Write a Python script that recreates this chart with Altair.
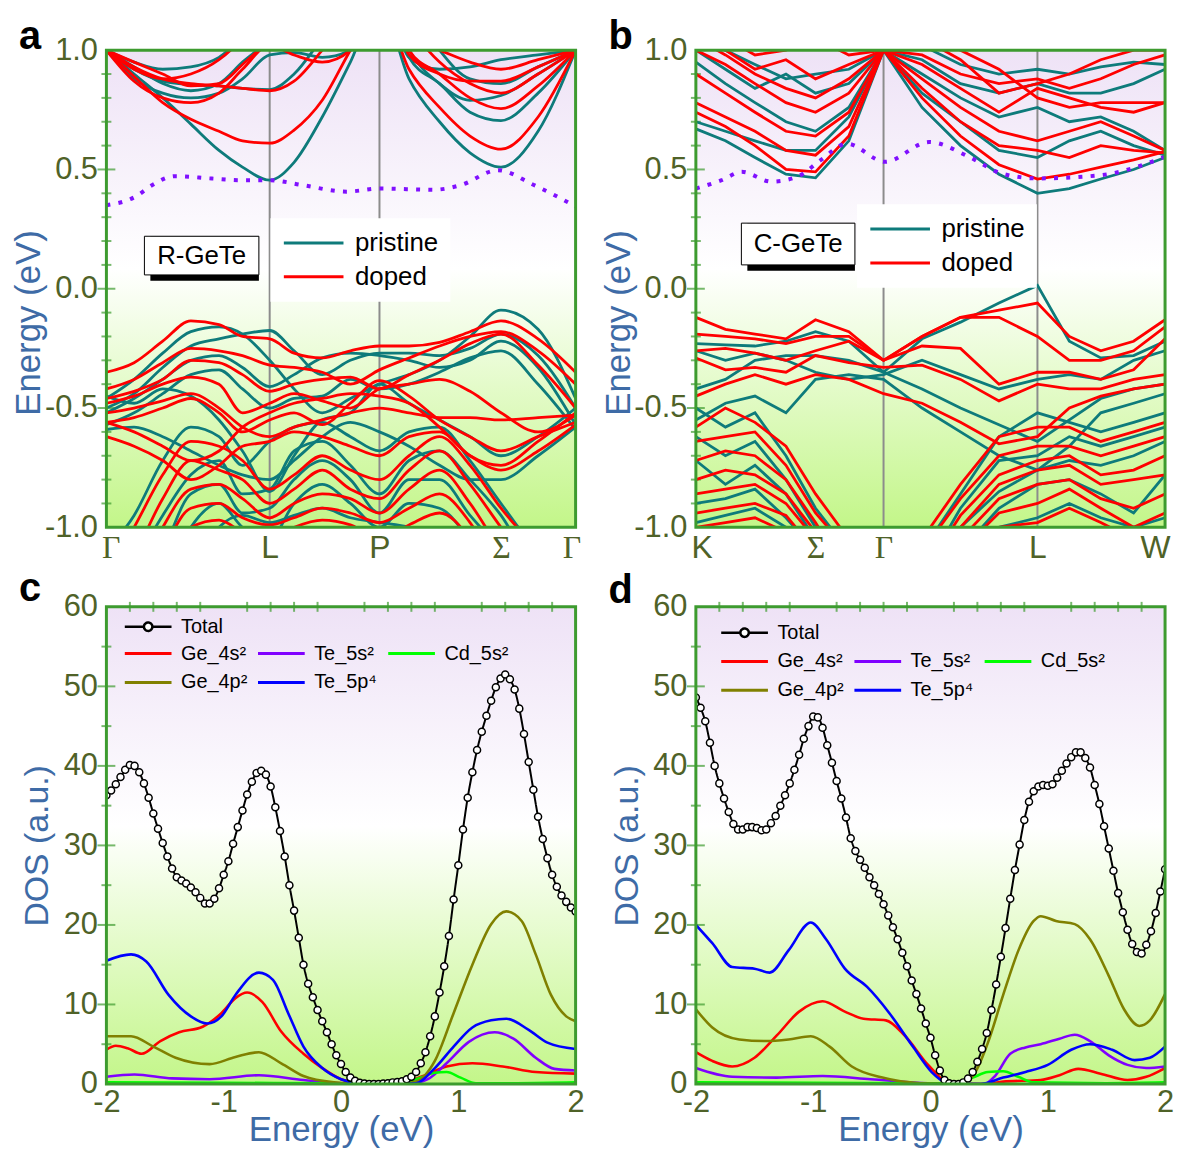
import altair as alt
import pandas as pd

FONT = "Liberation Sans"
SERIF = "Liberation Serif"
OLIVE = "#4f6228"
BLUE = "#3e6ba6"
FRAME = "#3d9b2f"
TEAL = "#0e7b7b"
RED = "#ff0000"
DOTC = "#8010ff"
GREY = "#8c8c8c"
W, H = 472, 480

# ---------------- (a) R-GeTe band structure ----------------
a_k = [0, 0.059, 0.120, 0.180, 0.240, 0.290, 0.348, 0.400, 0.460, 0.520, 0.582, 0.645, 0.710, 0.775, 0.841, 0.920, 1.0]
a_sym_k = [0, 0.348, 0.582, 0.841, 1.0]
a_sym_lab = ["Γ", "L", "P", "Σ", "Γ"]
a_rules = [0.348, 0.582]
a_pristine = [
    [1.0, 0.90, 0.80, 0.69, 0.58, 0.51, 0.455, 0.53, 0.72, 0.95, 1.2, 0.88, 0.70, 0.57, 0.51, 0.66, 1.0],
    [1.0, 0.92, 0.87, 0.855, 0.85, 0.84, 0.835, 0.90, 1.05, 1.2, 1.3, 0.97, 0.86, 0.74, 0.705, 0.82, 1.0],
    [1.0, 0.88, 0.82, 0.80, 0.82, 0.88, 0.98, 0.99, 0.97, 1.0, 1.3, 1.0, 0.86, 0.79, 0.81, 0.90, 1.0],
    [1.0, 0.95, 0.92, 0.93, 0.97, 1.05, 1.1, 1.2, 1.3, 1.3, 1.3, 0.97, 0.92, 0.93, 0.96, 0.98, 1.0],
    [1.0, 0.93, 0.86, 0.83, 0.86, 0.95, 1.05, 1.2, 1.3, 1.3, 1.3, 1.2, 1.0, 0.88, 0.86, 0.93, 1.0],
    [-0.46, -0.38, -0.27, -0.18, -0.16, -0.19, -0.30, -0.42, -0.52, -0.46, -0.40, -0.36, -0.30, -0.20, -0.09, -0.17, -0.46],
    [-0.50, -0.44, -0.33, -0.24, -0.21, -0.19, -0.175, -0.26, -0.36, -0.30, -0.27, -0.27, -0.28, -0.25, -0.19, -0.28, -0.50],
    [-0.52, -0.46, -0.38, -0.30, -0.28, -0.33, -0.41, -0.36, -0.29, -0.27, -0.28, -0.30, -0.33, -0.30, -0.22, -0.33, -0.57],
    [-0.57, -0.52, -0.44, -0.36, -0.34, -0.42, -0.50, -0.46, -0.45, -0.38, -0.42, -0.40, -0.35, -0.29, -0.26, -0.40, -0.59],
    [-0.59, -0.58, -0.62, -0.68, -0.74, -0.78, -0.80, -0.72, -0.62, -0.56, -0.60, -0.66, -0.74, -0.80, -0.80, -0.70, -0.58],
    [-0.45, -0.48, -0.42, -0.45, -0.55, -0.68, -0.85, -0.70, -0.55, -0.52, -0.40, -0.48, -0.55, -0.62, -0.70, -0.62, -0.50],
    [-1.1, -0.95, -0.72, -0.58, -0.62, -0.74, -0.64, -0.58, -0.56, -0.62, -0.68, -0.60, -0.58, -0.72, -0.90, -1.1, -1.2],
    [-1.3, -1.15, -0.95, -0.78, -0.72, -0.86, -0.84, -0.68, -0.64, -0.74, -0.86, -0.72, -0.68, -0.80, -0.95, -1.2, -1.3],
    [-1.4, -1.3, -1.1, -0.86, -0.82, -0.94, -0.92, -0.80, -0.72, -0.80, -0.94, -0.80, -0.80, -0.95, -1.1, -1.3, -1.4],
    [-1.5, -1.4, -1.25, -1.0, -0.90, -1.0, -1.05, -0.90, -0.82, -0.90, -1.0, -0.90, -0.92, -1.05, -1.2, -1.4, -1.5],
    [-1.6, -1.5, -1.4, -1.2, -1.0, -0.95, -0.98, -0.95, -0.92, -0.96, -0.98, -1.0, -1.05, -1.2, -1.35, -1.5, -1.6],
]
a_doped = [
    [1.0, 0.89, 0.78, 0.71, 0.66, 0.62, 0.61, 0.665, 0.79, 1.0, 1.2, 0.92, 0.76, 0.64, 0.585, 0.72, 1.0],
    [1.0, 0.93, 0.88, 0.86, 0.85, 0.84, 0.83, 0.87, 1.0, 1.15, 1.3, 1.0, 0.90, 0.80, 0.755, 0.85, 1.0],
    [1.0, 0.87, 0.80, 0.78, 0.82, 0.92, 1.02, 0.98, 0.95, 1.0, 1.3, 1.1, 0.95, 0.86, 0.82, 0.90, 1.0],
    [1.0, 0.92, 0.88, 0.90, 0.96, 1.05, 1.2, 1.3, 1.3, 1.3, 1.3, 1.05, 1.0, 0.95, 0.92, 0.96, 1.0],
    [1.0, 0.95, 0.90, 0.85, 0.86, 0.94, 1.05, 1.2, 1.3, 1.3, 1.3, 0.98, 0.90, 0.87, 0.87, 0.93, 1.0],
    [-0.35, -0.31, -0.22, -0.135, -0.15, -0.20, -0.21, -0.27, -0.29, -0.26, -0.24, -0.24, -0.225, -0.18, -0.135, -0.21, -0.35],
    [-0.42, -0.38, -0.31, -0.25, -0.26, -0.28, -0.32, -0.33, -0.35, -0.40, -0.34, -0.29, -0.24, -0.20, -0.18, -0.26, -0.40],
    [-0.46, -0.43, -0.38, -0.30, -0.31, -0.36, -0.43, -0.40, -0.38, -0.37, -0.42, -0.36, -0.30, -0.23, -0.19, -0.32, -0.50],
    [-0.48, -0.45, -0.40, -0.37, -0.40, -0.52, -0.48, -0.44, -0.47, -0.50, -0.42, -0.40, -0.38, -0.43, -0.52, -0.60, -0.53],
    [-0.52, -0.50, -0.47, -0.44, -0.50, -0.58, -0.62, -0.58, -0.55, -0.52, -0.50, -0.52, -0.54, -0.54, -0.55, -0.54, -0.53],
    [-0.56, -0.54, -0.50, -0.46, -0.52, -0.60, -0.55, -0.52, -0.57, -0.48, -0.385, -0.45, -0.55, -0.62, -0.68, -0.62, -0.56],
    [-0.56, -0.60, -0.66, -0.72, -0.68, -0.58, -0.52, -0.48, -0.46, -0.44, -0.45, -0.48, -0.58, -0.70, -0.74, -0.64, -0.52],
    [-0.62, -0.66, -0.72, -0.80, -0.74, -0.66, -0.64, -0.60, -0.62, -0.66, -0.70, -0.62, -0.60, -0.70, -0.76, -0.68, -0.57],
    [-1.2, -1.0, -0.78, -0.64, -0.66, -0.72, -0.84, -0.78, -0.70, -0.76, -0.80, -0.70, -0.62, -0.74, -0.92, -1.1, -1.3],
    [-1.3, -1.12, -0.88, -0.72, -0.76, -0.80, -0.90, -0.84, -0.76, -0.84, -0.88, -0.76, -0.68, -0.82, -1.0, -1.2, -1.4],
    [-1.4, -1.25, -1.0, -0.84, -0.82, -0.88, -0.96, -0.90, -0.86, -0.88, -0.94, -0.84, -0.76, -0.90, -1.1, -1.3, -1.5],
    [-1.5, -1.35, -1.1, -0.92, -0.90, -0.96, -0.99, -0.96, -0.92, -0.94, -0.98, -0.92, -0.86, -0.98, -1.2, -1.4, -1.6],
    [-1.6, -1.45, -1.25, -1.0, -0.97, -1.02, -1.05, -1.0, -0.97, -0.99, -1.05, -0.99, -0.94, -1.05, -1.3, -1.5, -1.7],
]
a_dot_k = [0, 0.062, 0.098, 0.146, 0.225, 0.289, 0.348, 0.416, 0.512, 0.582, 0.699, 0.756, 0.834, 0.911, 1.0]
a_dot_e = [0.35, 0.386, 0.435, 0.472, 0.462, 0.455, 0.455, 0.435, 0.407, 0.42, 0.415, 0.435, 0.497, 0.435, 0.345]

# ---------------- (b) C-GeTe band structure ----------------
b_k = [0, 0.063, 0.126, 0.192, 0.255, 0.326, 0.4, 0.482, 0.564, 0.646, 0.728, 0.796, 0.863, 0.933, 1.0]
b_sym_k = [0, 0.255, 0.4, 0.728, 1.0]
b_sym_lab = ["K", "Σ", "Γ", "L", "W"]
b_rules = [0.4, 0.728]
b_pristine = [
    [0.67, 0.62, 0.55, 0.48, 0.465, 0.62, 1.0, 0.76, 0.60, 0.48, 0.40, 0.42, 0.46, 0.50, 0.55],
    [0.70, 0.66, 0.62, 0.58, 0.58, 0.72, 1.0, 0.82, 0.70, 0.58, 0.55, 0.62, 0.66, 0.60, 0.56],
    [0.95, 0.86, 0.78, 0.70, 0.66, 0.76, 1.0, 0.90, 0.80, 0.72, 0.76, 0.70, 0.72, 0.66, 0.58],
    [1.0, 0.92, 0.84, 0.90, 0.82, 0.86, 1.0, 0.96, 0.86, 0.82, 0.86, 0.82, 0.82, 0.86, 0.92],
    [1.05, 1.0, 0.94, 0.88, 0.90, 0.92, 1.0, 1.02, 0.94, 0.90, 0.92, 0.90, 0.93, 0.95, 0.94],
    [-0.23, -0.235, -0.24, -0.22, -0.18, -0.22, -0.35, -0.21, -0.14, -0.06, 0.014, -0.22, -0.29, -0.28, -0.22],
    [-0.26, -0.30, -0.27, -0.30, -0.35, -0.38, -0.36, -0.30, -0.36, -0.42, -0.38, -0.36, -0.38, -0.30, -0.26],
    [-0.42, -0.38, -0.30, -0.28, -0.28, -0.30, -0.35, -0.42, -0.50, -0.57, -0.64, -0.55, -0.46, -0.42, -0.40],
    [-0.55, -0.48, -0.45, -0.52, -0.38, -0.36, -0.38, -0.50, -0.60, -0.70, -0.76, -0.66, -0.52, -0.48, -0.44],
    [-0.50, -0.58, -0.52, -0.70, -0.92, -1.1, -1.3, -1.1, -0.86, -0.62, -0.52, -0.56, -0.60, -0.56, -0.52],
    [-0.62, -0.70, -0.64, -0.80, -1.0, -1.2, -1.4, -1.2, -0.92, -0.72, -0.70, -0.62, -0.66, -0.62, -0.58],
    [-0.72, -0.82, -0.74, -0.86, -1.05, -1.3, -1.5, -1.3, -1.0, -0.85, -0.76, -0.72, -0.74, -0.70, -0.64],
    [-0.90, -0.88, -0.84, -0.96, -1.1, -1.4, -1.6, -1.4, -1.1, -0.92, -0.82, -0.80, -0.86, -0.94, -0.78],
    [-0.98, -0.95, -0.92, -1.0, -1.2, -1.5, -1.7, -1.5, -1.2, -1.0, -0.96, -0.90, -0.96, -1.0, -0.96],
]
b_doped = [
    [0.74, 0.68, 0.60, 0.50, 0.49, 0.64, 1.0, 0.80, 0.64, 0.52, 0.46, 0.48, 0.51, 0.54, 0.575],
    [0.78, 0.72, 0.66, 0.58, 0.56, 0.68, 1.0, 0.84, 0.70, 0.60, 0.58, 0.55, 0.60, 0.58, 0.57],
    [0.90, 0.82, 0.74, 0.66, 0.64, 0.74, 1.0, 0.88, 0.76, 0.66, 0.62, 0.66, 0.70, 0.64, 0.58],
    [1.0, 0.94, 0.86, 0.78, 0.74, 0.82, 1.0, 0.94, 0.84, 0.74, 0.84, 0.80, 0.76, 0.74, 0.78],
    [1.05, 0.98, 0.90, 0.84, 0.80, 0.88, 1.0, 0.98, 0.90, 0.86, 0.88, 0.84, 0.88, 0.94, 0.98],
    [1.1, 1.0, 0.92, 0.96, 0.88, 0.94, 1.0, 1.05, 0.96, 0.82, 0.86, 0.90, 0.96, 1.0, 1.0],
    [1.1, 1.05, 0.98, 1.0, 1.05, 0.98, 1.0, 1.08, 1.0, 0.92, 0.80, 0.76, 0.78, 0.78, 0.78],
    [-0.12, -0.17, -0.19, -0.21, -0.13, -0.18, -0.30, -0.20, -0.12, -0.09, -0.06, -0.20, -0.26, -0.22, -0.13],
    [-0.19, -0.20, -0.21, -0.23, -0.20, -0.20, -0.30, -0.20, -0.12, -0.12, -0.20, -0.30, -0.30, -0.26, -0.16],
    [-0.26, -0.25, -0.27, -0.30, -0.26, -0.22, -0.30, -0.24, -0.25, -0.40, -0.35, -0.35, -0.38, -0.34, -0.21],
    [-0.29, -0.34, -0.33, -0.35, -0.28, -0.31, -0.33, -0.32, -0.38, -0.47, -0.40, -0.42, -0.42, -0.38, -0.36],
    [-0.45, -0.40, -0.36, -0.40, -0.36, -0.38, -0.44, -0.48, -0.56, -0.65, -0.62, -0.50, -0.45, -0.42, -0.40],
    [-0.58, -0.50, -0.56, -0.66, -0.86, -1.05, -1.25, -1.05, -0.82, -0.62, -0.58, -0.58, -0.64, -0.60, -0.56],
    [-0.64, -0.62, -0.60, -0.74, -0.94, -1.1, -1.35, -1.1, -0.88, -0.70, -0.66, -0.66, -0.70, -0.66, -0.62],
    [-0.72, -0.68, -0.70, -0.80, -0.98, -1.2, -1.45, -1.2, -0.95, -0.78, -0.72, -0.70, -0.78, -0.76, -0.70],
    [-0.80, -0.76, -0.78, -0.86, -1.02, -1.25, -1.5, -1.25, -1.0, -0.82, -0.76, -0.74, -0.82, -0.80, -0.78],
    [-0.86, -0.84, -0.82, -0.90, -1.05, -1.3, -1.55, -1.3, -1.05, -0.88, -0.82, -0.80, -0.88, -0.92, -0.86],
    [-0.94, -0.92, -0.90, -0.95, -1.1, -1.35, -1.6, -1.35, -1.1, -0.94, -0.90, -0.84, -0.92, -1.0, -0.94],
    [-1.0, -0.98, -0.96, -1.02, -1.15, -1.4, -1.7, -1.4, -1.15, -1.0, -0.98, -0.92, -0.98, -1.05, -1.0],
]
b_dot_k = [0, 0.055, 0.098, 0.161, 0.217, 0.266, 0.322, 0.403, 0.497, 0.582, 0.652, 0.729, 0.862, 1.0]
b_dot_e = [0.42, 0.455, 0.49, 0.449, 0.47, 0.539, 0.608, 0.532, 0.615, 0.553, 0.483, 0.4625, 0.476, 0.553]

# ---------------- (c) / (d) DOS ----------------
dos_names = ["Ge_4s²", "Te_5s²", "Cd_5s²", "Ge_4p²", "Te_5p⁴"]
dos_colors = ["#ff0000", "#8000ff", "#00ff00", "#808000", "#0000ff"]

# total DOS sampled every 0.04 eV from -2.00 to 2.00
c_total = [36.3, 36.9, 37.7, 38.6, 39.5, 40.1, 40.0, 39.2, 37.8, 36.0, 34.0, 32.1, 30.3, 28.6, 27.1, 26.0,
           25.6, 25.2, 24.7, 24.1, 23.4, 22.7, 22.7, 23.3, 24.6,
           26.3, 28.0, 30.2, 32.3, 34.4, 36.4, 38.0, 39.1, 39.4, 38.9, 37.4, 34.8, 31.8, 28.6, 25.0, 21.8,
           18.4, 15.0, 12.6, 10.9, 9.3, 7.9, 6.5, 5.0, 3.6,
           2.5, 1.5, 0.8, 0.4, 0.15, 0.05, 0.0, 0.0, 0.0, 0.05, 0.1, 0.2, 0.25, 0.35, 0.6, 0.9, 1.5, 2.6,
           4.0, 6.0, 8.5, 11.5, 14.8, 18.6, 23.2,
           27.5, 32.0, 36.0, 39.2, 42.0, 44.3, 46.3, 48.2, 49.9, 51.0, 51.5, 50.9, 49.6, 47.2, 44.0, 40.5,
           37.0, 33.6, 30.8, 28.4, 26.3, 24.8, 23.7, 22.9, 22.2, 21.7]
d_total = [48.6, 47.3, 45.6, 42.9, 40.0, 37.8, 35.9, 34.2, 32.7, 32.0, 32.0, 32.3, 32.3, 32.2, 31.9, 32.0,
           32.8, 33.7, 35.0, 36.3, 37.8, 39.5, 41.4, 43.4, 45.0,
           46.2, 46.1, 44.8, 42.6, 40.4, 38.1, 35.9, 33.5, 30.9, 29.3, 28.2, 27.2, 26.0, 25.0, 23.9, 22.6,
           21.2, 19.7, 18.2, 16.5, 14.8, 13.0, 11.3, 9.5, 7.6,
           5.8, 3.6, 1.7, 0.5, 0.1, 0.0, 0.0, 0.2, 0.7, 1.5, 2.8, 4.4, 6.4, 9.3, 12.5, 16.0, 19.6, 23.3,
           26.9, 30.1, 33.2, 35.5, 36.8, 37.4, 37.6,
           37.5, 37.7, 38.5, 39.4, 40.3, 41.1, 41.7, 41.7, 41.0, 39.8, 37.6, 35.2, 32.4, 29.6, 26.8, 24.0,
           21.6, 19.4, 17.6, 16.6, 16.4, 17.5, 19.2, 21.5, 24.2, 27.0]
tot_e = [round(-2 + 0.04 * i, 2) for i in range(101)]

c_ge4s_e = [-2, -1.92, -1.82, -1.70, -1.54, -1.38, -1.18, -1.02, -0.9, -0.8, -0.67, -0.51, -0.32, -0.16, 0.0, 0.16, 0.48, 0.70, 0.9, 1.12, 1.38, 1.66, 2.0]
c_ge4s = [4.3, 4.8, 4.5, 3.8, 5.4, 6.5, 7.2, 8.9, 10.8, 11.5, 10.3, 6.6, 3.8, 2.0, 0.6, 0.1, 0.0, 1.0, 2.2, 2.6, 2.2, 1.5, 1.3]
c_te5s_e = [-2, -1.76, -1.44, -1.12, -0.7, -0.32, 0.0, 0.58, 0.74, 0.9, 1.09, 1.31, 1.47, 1.66, 1.82, 2.0]
c_te5s = [0.9, 1.2, 0.7, 0.6, 1.1, 0.5, 0.1, 0.0, 0.6, 2.6, 5.3, 6.5, 5.7, 3.3, 1.9, 1.7]
c_cd5s_e = [-2, -1.0, 0.0, 0.5, 0.64, 0.8, 0.9, 1.02, 1.15, 1.5, 2.0]
c_cd5s = [0.2, 0.15, 0.1, 0.1, 0.6, 1.4, 1.5, 0.8, 0.1, 0.1, 0.2]
c_ge4p_e = [-2, -1.79, -1.6, -1.41, -1.12, -0.9, -0.70, -0.51, -0.32, -0.06, 0.2, 0.5, 0.64, 0.8, 0.96, 1.12, 1.28, 1.41, 1.54, 1.66, 1.79, 1.92, 2.0]
c_ge4p = [6.0, 6.0, 4.7, 3.3, 2.5, 3.4, 4.0, 2.6, 1.0, 0.2, 0.0, 0.0, 0.3, 2.9, 8.9, 15.0, 20.1, 21.7, 20.5, 16.3, 11.2, 8.5, 7.9]
c_te5p_e = [-2, -1.79, -1.66, -1.47, -1.28, -1.14, -1.02, -0.9, -0.7, -0.58, -0.45, -0.32, -0.16, 0.0, 0.16, 0.48, 0.64, 0.8, 0.96, 1.12, 1.28, 1.41, 1.6, 1.76, 2.0]
c_te5p = [15.5, 16.3, 15.4, 11.2, 8.5, 7.6, 8.5, 11.2, 14.0, 13.1, 8.9, 4.7, 2.0, 0.6, 0.1, 0.0, 0.1, 2.0, 4.7, 7.1, 8.0, 8.2, 6.8, 5.2, 4.4]

d_ge4s_e = [-2, -1.86, -1.69, -1.5, -1.31, -1.12, -0.92, -0.73, -0.57, -0.38, -0.22, -0.02, 0.17, 0.46, 0.62, 0.94, 1.1, 1.26, 1.45, 1.68, 1.84, 2.0]
d_ge4s = [4.0, 2.9, 2.2, 3.3, 6.1, 9.1, 10.4, 9.1, 8.2, 8.0, 6.1, 2.4, 0.1, 0.0, 0.3, 0.5, 1.1, 1.9, 1.3, 0.5, 0.9, 2.0]
d_te5s_e = [-2, -1.69, -1.31, -0.92, -0.51, -0.02, 0.46, 0.55, 0.68, 0.81, 0.94, 1.1, 1.23, 1.36, 1.52, 1.68, 1.84, 2.0]
d_te5s = [2.0, 0.9, 0.8, 1.0, 0.6, 0.1, 0.0, 1.0, 3.8, 4.6, 5.0, 5.7, 6.2, 5.4, 3.6, 2.4, 2.0, 2.2]
d_cd5s_e = [-2, -1.0, 0.0, 0.23, 0.36, 0.49, 0.62, 0.75, 0.88, 1.5, 2.0]
d_cd5s = [0.2, 0.15, 0.1, 0.1, 0.8, 1.5, 1.6, 0.9, 0.2, 0.1, 0.2]
d_ge4p_e = [-2, -1.86, -1.63, -1.41, -1.21, -1.02, -0.86, -0.67, -0.41, -0.09, 0.23, 0.36, 0.49, 0.62, 0.75, 0.88, 0.94, 1.07, 1.23, 1.36, 1.52, 1.65, 1.78, 1.87, 2.0]
d_ge4p = [9.4, 7.1, 5.6, 5.4, 5.6, 6.0, 4.7, 2.2, 0.8, 0.1, 0.0, 1.0, 5.2, 11.2, 16.8, 20.5, 21.1, 20.5, 20.1, 18.2, 13.6, 9.4, 7.3, 8.0, 11.3]
d_te5p_e = [-2, -1.86, -1.69, -1.5, -1.37, -1.21, -1.02, -0.89, -0.73, -0.54, -0.35, -0.15, 0.01, 0.17, 0.43, 0.62, 0.81, 1.0, 1.2, 1.36, 1.55, 1.74, 1.87, 2.0]
d_te5p = [20.0, 17.7, 14.7, 14.5, 14.0, 16.8, 20.3, 18.2, 14.5, 12.2, 8.9, 4.7, 1.5, 0.0, 0.0, 0.8, 1.5, 2.4, 4.3, 5.0, 4.3, 3.0, 3.3, 4.7]

# axis tick helpers (inside ticks)
band_major = [-0.5, 0.0, 0.5]
band_minor = [-0.9, -0.8, -0.7, -0.6, -0.4, -0.3, -0.2, -0.1, 0.1, 0.2, 0.3, 0.4, 0.6, 0.7, 0.8, 0.9]
dos_major = [10, 20, 30, 40, 50]
dos_minor = [5, 15, 25, 35, 45, 55]
dos_xminor = [-1.8, -1.6, -1.4, -1.2, -0.8, -0.6, -0.4, -0.2, 0.2, 0.4, 0.6, 0.8, 1.2, 1.4, 1.6, 1.8]

GRADIENT = {"gradient": "linear", "x1": 0, "y1": 0, "x2": 0, "y2": 1,
            "stops": [{"offset": 0, "color": "#eee2f6"},
                      {"offset": 0.46, "color": "#ffffff"},
                      {"offset": 1, "color": "#c3f689"}]}
TOTAL_SYMBOL = "M-1,0H-0.18M0.18,0H1M0.18,0A0.18,0.18,0,1,1,-0.18,0A0.18,0.18,0,1,1,0.18,0Z"

one = pd.DataFrame({"o": [0]})


def neg_fmt(fmt):
    return f"datum.value < 0 ? '-' + format(-datum.value, '{fmt}') : format(datum.value, '{fmt}')"


def bg_layer():
    return alt.Chart(one).mark_rect(fill=GRADIENT).encode(
        x=alt.value(0), x2=alt.value(W), y=alt.value(0), y2=alt.value(H))


def frame_layer():
    return alt.Chart(one).mark_rect(fillOpacity=0, stroke=FRAME, strokeWidth=3).encode(
        x=alt.value(0), x2=alt.value(W), y=alt.value(0), y2=alt.value(H))


def letter_layer(letter, dy):
    return alt.Chart(one).mark_text(text=letter, fontSize=40, fontWeight="bold", font=FONT, color="black",
                                    align="left", baseline="alphabetic").encode(
        x=alt.value(-88), y=alt.value(dy))


def bands_df(k, bands, series):
    rows = []
    for i, b in enumerate(bands):
        for kk, e in zip(k, b):
            rows.append({"k": kk, "E": e, "band": f"{series}{i}", "series": series})
    return pd.DataFrame(rows)


def band_panel(letter, k, pristine, doped, sym_k, sym_lab, rules, dot_k, dot_e, box, interp, leg_xy):
    lab_expr = " : ".join(f"abs(datum.value - {v}) < 0.001 ? '{l}'" for v, l in zip(sym_k, sym_lab)) + " : ''"
    serif_test = " || ".join(f"abs(datum.value - {v}) < 0.001" for v, l in zip(sym_k, sym_lab) if l in ("Γ", "Σ"))
    xaxis = alt.Axis(values=sym_k, labelExpr=lab_expr, title=None, domain=False, ticks=False, grid=False,
                     labelFontSize=32, labelColor=OLIVE,
                     labelFont={"condition": {"test": serif_test, "value": SERIF}, "value": FONT},
                     labelPadding=5, labelFlush=True, labelFlushOffset=5, labelOverlap=False)
    yaxis = alt.Axis(values=[-1, -0.5, 0, 0.5, 1], labelExpr=neg_fmt(".1f"), title="Energy (eV)",
                     titleFontSize=35, titleColor=BLUE, titleFont=FONT, titleFontWeight="normal",
                     titleY=H / 2 + 34,
                     labelFontSize=31, labelColor=OLIVE, labelFont=FONT, domain=False, ticks=False,
                     grid=False, labelPadding=9, minExtent=58, maxExtent=58, titlePadding=2,
                     labelFlush=False, labelOverlap=False)
    xs = alt.Scale(domain=[0, 1], nice=False, zero=False)
    ys = alt.Scale(domain=[-1, 1], nice=False, zero=False)

    def X(f):
        return alt.X(f, type="quantitative", scale=xs, axis=xaxis)

    def Y(f):
        return alt.Y(f, type="quantitative", scale=ys, axis=yaxis)

    cscale = alt.Scale(domain=["pristine", "doped"], range=[TEAL, RED])
    legend = alt.Legend(title=None, orient="none", legendX=leg_xy[0], legendY=leg_xy[1], direction="vertical",
                        symbolType="stroke", symbolSize=3600, symbolStrokeWidth=3, labelFontSize=26,
                        labelFont=FONT, labelColor="black", fillColor="white", padding=12, rowPadding=8,
                        labelOffset=10, labelLimit=300, clipHeight=26)

    layers = [bg_layer()]
    layers.append(alt.Chart(pd.DataFrame({"v": band_major})).mark_tick(
        orient="horizontal", color=FRAME, thickness=2, size=18).encode(y=Y("v"), x=alt.value(0)))
    layers.append(alt.Chart(pd.DataFrame({"v": band_minor})).mark_tick(
        orient="horizontal", color=FRAME, thickness=2, size=10).encode(y=Y("v"), x=alt.value(0)))
    layers.append(alt.Chart(pd.DataFrame({"k": rules})).mark_rule(color=GREY, strokeWidth=2)
                  .encode(x=X("k")))
    for data, ser in ((pristine, "pristine"), (doped, "doped")):
        layers.append(alt.Chart(bands_df(k, data, ser)).mark_line(strokeWidth=2.8, interpolate=interp, clip=True)
                      .encode(x=X("k"), y=Y("E"), detail="band:N",
                              color=alt.Color("series:N", scale=cscale, legend=legend)))
    layers.append(alt.Chart(pd.DataFrame({"k": dot_k, "E": dot_e})).mark_line(
        color=DOTC, strokeWidth=4, strokeDash=[4, 8.3], interpolate="monotone", clip=True)
        .encode(x=X("k"), y=Y("E")))
    bdf = pd.DataFrame({"k1": [box[0]], "k2": [box[1]], "e1": [box[2]], "e2": [box[3]],
                        "km": [(box[0] + box[1]) / 2], "em": [(box[2] + box[3]) / 2], "t": [box[4]]})
    layers.append(alt.Chart(bdf).mark_rect(color="black", xOffset=6, yOffset=6)
                  .encode(x=X("k1"), x2="k2", y=Y("e1"), y2="e2"))
    layers.append(alt.Chart(bdf).mark_rect(fill="white", stroke="black", strokeWidth=1)
                  .encode(x=X("k1"), x2="k2", y=Y("e1"), y2="e2"))
    layers.append(alt.Chart(bdf).mark_text(fontSize=26, font=FONT, color="black")
                  .encode(x=X("km"), y=Y("em"), text="t:N"))
    layers.append(frame_layer())
    layers.append(letter_layer(letter, -1))
    return alt.layer(*layers).properties(width=W, height=H)


def dos_panel(letter, letter_dy, total, pdos, leg_x, leg_y, leg_dy):
    xaxis = alt.Axis(values=[-2, -1, 0, 1, 2], labelExpr=neg_fmt("d"), title="Energy (eV)",
                     titleFontSize=35, titleColor=BLUE, titleFont=FONT, titleFontWeight="normal",
                     labelFontSize=31, labelColor=OLIVE, labelFont=FONT, domain=False, ticks=False,
                     grid=False, labelPadding=4, titlePadding=-5, labelFlush=False, labelOverlap=False)
    yaxis = alt.Axis(values=[0, 10, 20, 30, 40, 50, 60], title="DOS (a.u.)",
                     titleFontSize=34, titleColor=BLUE, titleFont=FONT, titleFontWeight="normal",
                     labelFontSize=31, labelColor=OLIVE, labelFont=FONT, domain=False, ticks=False,
                     grid=False, labelPadding=9, minExtent=44, maxExtent=44, titlePadding=8,
                     labelFlush=False, labelOverlap=False)
    xs = alt.Scale(domain=[-2, 2], nice=False, zero=False)
    ys = alt.Scale(domain=[0, 60], nice=False, zero=False)

    def X(f):
        return alt.X(f, type="quantitative", scale=xs, axis=xaxis)

    def Y(f):
        return alt.Y(f, type="quantitative", scale=ys, axis=yaxis)

    layers = [bg_layer()]
    layers.append(alt.Chart(pd.DataFrame({"v": dos_major})).mark_tick(orient="horizontal", color=FRAME,
                  thickness=2, size=18).encode(y=Y("v"), x=alt.value(0)))
    layers.append(alt.Chart(pd.DataFrame({"v": dos_minor})).mark_tick(orient="horizontal", color=FRAME,
                  thickness=2, size=10).encode(y=Y("v"), x=alt.value(0)))
    layers.append(alt.Chart(pd.DataFrame({"v": dos_xminor})).mark_tick(orient="vertical", color=FRAME,
                  thickness=2, size=10).encode(x=X("v"), y=alt.value(0)))
    rows = []
    for name, es, vs in pdos:
        for e, v in zip(es, vs):
            rows.append({"E": e, "v": v, "name": name})
    pdf = pd.DataFrame(rows)
    leg = alt.Legend(title=None, orient="none", legendX=leg_x, legendY=leg_y + leg_dy, columns=3,
                     direction="horizontal", symbolType="stroke", symbolSize=2209, symbolStrokeWidth=3,
                     labelFontSize=20, labelFont=FONT, labelColor="black", padding=0, rowPadding=9,
                     columnPadding=9, labelOffset=8, labelLimit=300, clipHeight=20)
    layers.append(alt.Chart(pdf).mark_line(strokeWidth=2.6, interpolate="monotone", clip=True).encode(
        x=X("E"), y=Y("v"),
        color=alt.Color("name:N", scale=alt.Scale(domain=dos_names, range=dos_colors), legend=leg)))
    tdf = pd.DataFrame({"E": tot_e, "v": total, "tname": "Total"})
    tleg = alt.Legend(title=None, orient="none", legendX=leg_x, legendY=leg_y, symbolType=TOTAL_SYMBOL,
                      symbolSize=2209, symbolStrokeColor="black", symbolFillColor="white",
                      symbolStrokeWidth=2.5, labelFontSize=20, labelFont=FONT, labelColor="black",
                      padding=0, labelOffset=8, labelLimit=300, clipHeight=20)
    layers.append(alt.Chart(tdf).mark_line(color="black", strokeWidth=2, interpolate="monotone", clip=True)
                  .encode(x=X("E"), y=Y("v"),
                          strokeDash=alt.StrokeDash("tname:N", scale=alt.Scale(domain=["Total"], range=[[1, 0]]),
                                                    legend=tleg)))
    layers.append(alt.Chart(tdf).mark_point(shape="circle", filled=True, fill="white", stroke="black",
                                            strokeWidth=1.5, size=50, opacity=1, clip=True)
                  .encode(x=X("E"), y=Y("v")))
    layers.append(frame_layer())
    layers.append(letter_layer(letter, letter_dy))
    return alt.layer(*layers).properties(width=W, height=H)


pa = band_panel("a", a_k, a_pristine, a_doped, a_sym_k, a_sym_lab, a_rules, a_dot_k, a_dot_e,
                (0.081, 0.325, 0.058, 0.22, "R-GeTe"), "monotone", (165, 169))
pb = band_panel("b", b_k, b_pristine, b_doped, b_sym_k, b_sym_lab, b_rules, b_dot_k, b_dot_e,
                (0.097, 0.339, 0.10, 0.275, "C-GeTe"), "linear", (162, 155))
pc = dos_panel("c", -6, c_total, [("Ge_4s²", c_ge4s_e, c_ge4s), ("Te_5s²", c_te5s_e, c_te5s),
                                  ("Cd_5s²", c_cd5s_e, c_cd5s), ("Ge_4p²", c_ge4p_e, c_ge4p),
                                  ("Te_5p⁴", c_te5p_e, c_te5p)], 17, 10, 27)
pdd = dos_panel("d", -4, d_total, [("Ge_4s²", d_ge4s_e, d_ge4s), ("Te_5s²", d_te5s_e, d_te5s),
                                   ("Cd_5s²", d_cd5s_e, d_cd5s), ("Ge_4p²", d_ge4p_e, d_ge4p),
                                   ("Te_5p⁴", d_te5p_e, d_te5p)], 24, 16, 29)

chart = alt.concat(pa, pb, pc, pdd, columns=2, spacing={"row": 80, "column": 121}, bounds="flush").resolve_scale(
    x="independent", y="independent", color="independent", strokeDash="independent"
).resolve_legend(color="independent", strokeDash="independent").configure_view(
    stroke="transparent").properties(
    padding={"left": 3, "top": 5, "right": 0, "bottom": 0}, background="white")

chart.save("out.html", embed_options={"renderer": "svg", "actions": False})
